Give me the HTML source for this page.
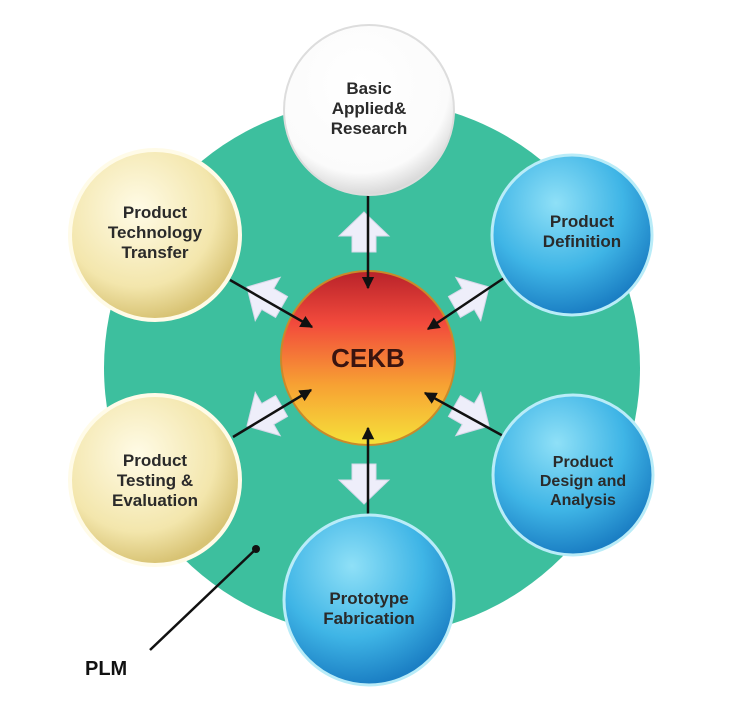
<!DOCTYPE html>
<html><head><style>body{margin:0;background:#fff}svg{display:block}</style></head><body>
<svg width="748" height="709" viewBox="0 0 748 709" xmlns="http://www.w3.org/2000/svg" font-family="Liberation Sans, sans-serif" font-weight="bold">
<defs>
<radialGradient id="w" cx="45%" cy="35%" r="65%"><stop offset="0" stop-color="#fff"/><stop offset="0.8" stop-color="#fbfbfb"/><stop offset="1" stop-color="#d8d8d8"/></radialGradient>
<radialGradient id="y" cx="40%" cy="35%" r="65%"><stop offset="0" stop-color="#fffbe6"/><stop offset="0.7" stop-color="#f3e6ac"/><stop offset="1" stop-color="#d8c374"/></radialGradient>
<radialGradient id="b" cx="40%" cy="30%" r="70%"><stop offset="0" stop-color="#8fe0f7"/><stop offset="0.6" stop-color="#3fb5e6"/><stop offset="1" stop-color="#1b7fc4"/></radialGradient>
<linearGradient id="c" x1="0" y1="0" x2="0" y2="1"><stop offset="0" stop-color="#b8222a"/><stop offset="0.3" stop-color="#f24a3c"/><stop offset="0.65" stop-color="#f7a033"/><stop offset="1" stop-color="#f6e23a"/></linearGradient>
<marker id="ah" viewBox="0 0 10 10" refX="9" refY="5" markerWidth="5" markerHeight="5" orient="auto"><path d="M0,0L10,5L0,10z" fill="#111"/></marker>
<polygon id="ar" points="0,-22 25,2 12,2 12,18 -12,18 -12,2 -25,2" fill="#eeeefa" stroke="#d8d8ea" stroke-width="1"/>
</defs>
<circle cx="372" cy="368" r="268" fill="#3dbf9e"/>
<use href="#ar" transform="translate(364,234)"/>
<use href="#ar" transform="translate(364,482) rotate(180)"/>
<use href="#ar" transform="translate(266,298) rotate(-60)"/>
<use href="#ar" transform="translate(470,298) rotate(60)"/>
<use href="#ar" transform="translate(266,415) rotate(-120)"/>
<use href="#ar" transform="translate(470,415) rotate(120)"/>
<circle cx="368" cy="358" r="87" fill="url(#c)" stroke="#c98a2a" stroke-width="2"/>
<g stroke="#111" stroke-width="2.5" marker-end="url(#ah)">
<line x1="368" y1="195" x2="368" y2="288"/>
<line x1="368" y1="520" x2="368" y2="428"/>
<line x1="230" y1="280" x2="312" y2="327"/>
<line x1="507" y1="276" x2="428" y2="329"/>
<line x1="233" y1="437" x2="311" y2="390"/>
<line x1="505" y1="437" x2="425" y2="393"/>
</g>
<text x="368" y="367" font-size="26" text-anchor="middle" fill="#3a1410">CEKB</text>
<circle cx="369" cy="110" r="85" fill="url(#w)" stroke="#ddd" stroke-width="2"/>
<circle cx="155" cy="235" r="85" fill="url(#y)" stroke="#fffbe8" stroke-width="4"/>
<circle cx="155" cy="480" r="85" fill="url(#y)" stroke="#fffbe8" stroke-width="4"/>
<circle cx="572" cy="235" r="80" fill="url(#b)" stroke="#b9ecf8" stroke-width="3"/>
<circle cx="573" cy="475" r="80" fill="url(#b)" stroke="#b9ecf8" stroke-width="3"/>
<circle cx="369" cy="600" r="85" fill="url(#b)" stroke="#b9ecf8" stroke-width="3"/>
<g font-size="17" text-anchor="middle" fill="#2a2a2a">
<text x="369" y="94">Basic</text><text x="369" y="114">Applied&amp;</text><text x="369" y="134">Research</text>
<text x="155" y="218">Product</text><text x="155" y="238">Technology</text><text x="155" y="258">Transfer</text>
<text x="155" y="466">Product</text><text x="155" y="486">Testing &amp;</text><text x="155" y="506">Evaluation</text>
<text x="582" y="227">Product</text><text x="582" y="247">Definition</text>
<text x="583" y="467" font-size="16">Product</text><text x="583" y="486" font-size="16">Design and</text><text x="583" y="505" font-size="16">Analysis</text>
<text x="369" y="604">Prototype</text><text x="369" y="624">Fabrication</text>
</g>
<circle cx="256" cy="549" r="4" fill="#111"/>
<line x1="256" y1="549" x2="150" y2="650" stroke="#111" stroke-width="2.5"/>
<text x="85" y="675" font-size="20" fill="#111">PLM</text>
</svg>
</body></html>
